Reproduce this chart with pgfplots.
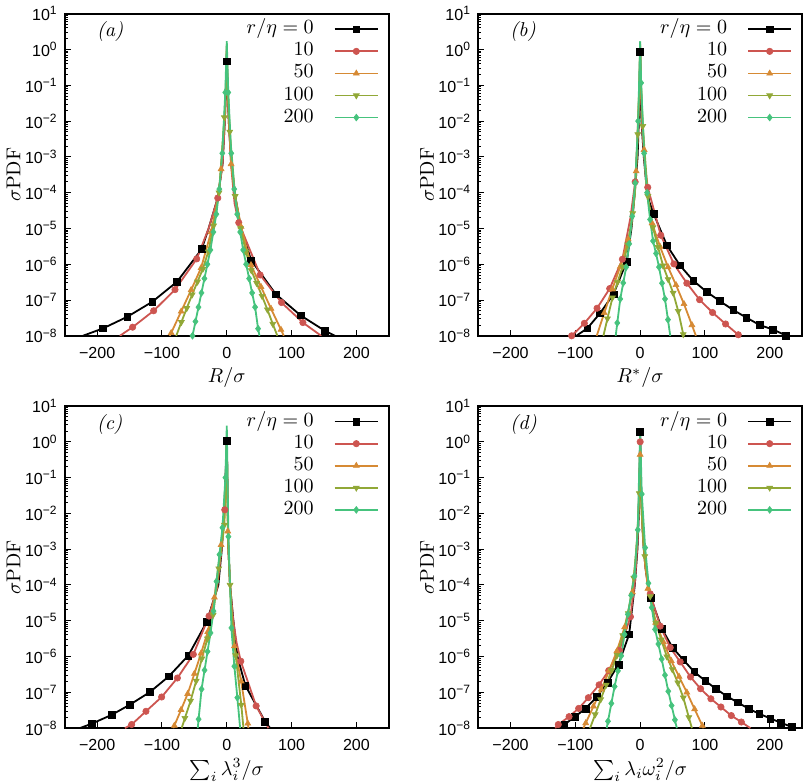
\documentclass[border=0pt]{standalone}
\usepackage{fontspec}
\usepackage{pgfplots}
\usepackage{pgfplotstable}
\pgfplotsset{compat=1.18}
\usepgfplotslibrary{groupplots}
\newfontfamily\ticksans{Liberation Sans}
\definecolor{cred}{RGB}{205,85,80}
\definecolor{corange}{RGB}{214,138,52}
\definecolor{colive}{RGB}{145,168,55}
\definecolor{cgreen}{RGB}{70,195,125}

% ---------------- panel (a) ----------------
\pgfplotstableread{
x y m
-222 1.0e-8 0
-190.7 1.62e-8 1
-153.6 3.39e-8 1
-115 8.91e-8 1
-76.8 3.24e-7 1
-38.7 2.63e-6 1
-28 1.0e-5 0
-14 7.08e-5 0
-6.5 6.31e-4 0
-3 1.0e-2 0
-1 0.1 0
0 0.47 1
1 0.1 0
3 1.0e-2 0
7 6.31e-4 0
14 6.31e-5 0
22 1.0e-5 0
37.6 1.29e-6 1
75.7 1.45e-7 1
113.8 3.72e-8 1
151.4 1.38e-8 1
167 1.0e-8 0
}\tAa
\pgfplotstableread{
x y m
-165 1.0e-8 0
-145.3 1.74e-8 1
-112.8 5.01e-8 1
-79.9 1.95e-7 1
-46.4 1.41e-6 1
-28 1.0e-5 0
-13.9 7.08e-5 1
-6.5 6.31e-4 0
-3 1.0e-2 0
-1 0.126 0
0 1.0 0
1 0.126 0
3 1.0e-2 0
7 5.01e-4 0
12 5.01e-5 0
18.5 1.45e-5 1
51.5 5.01e-7 1
84.4 8.51e-8 1
117.4 2.34e-8 1
145.7 1.0e-8 0
}\tAb
\pgfplotstableread{
x y m
-88 1.0e-8 0
-85.8 1.20e-8 1
-70.4 4.79e-8 1
-55 1.91e-7 1
-39.6 7.94e-7 1
-24.2 7.94e-6 1
-12 1.0e-4 0
-8.8 4.57e-4 1
-3 1.58e-2 0
-1 0.126 0
0 1.26 0
1 0.126 0
3 1.58e-2 0
6.6 6.31e-4 1
12 1.0e-4 0
22 1.12e-5 1
37.4 9.55e-7 1
52.8 2.34e-7 1
68.2 5.75e-8 1
83.6 1.48e-8 1
88 1.0e-8 0
}\tAc
\pgfplotstableread{
x y m
-78 1.0e-8 0
-70.1 2.40e-8 1
-61.8 5.89e-8 1
-53.5 1.41e-7 1
-45.2 3.24e-7 1
-36.9 7.41e-7 1
-28.6 2.24e-6 1
-20.3 1.20e-5 1
-12 1.0e-4 1
-3.7 1.26e-2 1
-1 0.158 0
0 1.41 0
1 0.158 0
4.6 5.01e-3 1
12.9 7.94e-5 1
21.2 1.0e-5 1
29.5 2.24e-6 1
37.8 6.76e-7 1
46.1 2.95e-7 1
54.4 1.29e-7 1
62.7 5.37e-8 1
71 2.14e-8 1
78 1.0e-8 0
}\tAd
\pgfplotstableread{
x y m
-52.9 1.0e-8 1
-48.3 2.51e-8 1
-43.7 6.31e-8 1
-39.1 1.58e-7 1
-34.5 3.98e-7 1
-29.9 1.0e-6 1
-25.3 2.51e-6 1
-20.7 7.94e-6 1
-16.1 2.51e-5 1
-11.5 1.26e-4 1
-6.9 1.26e-3 1
-2.3 6.31e-2 1
0 1.70 0
2.3 6.31e-2 1
6.9 1.26e-3 1
11.5 1.26e-4 1
16.1 2.51e-5 1
20.7 7.94e-6 1
25.3 2.51e-6 1
29.9 1.0e-6 1
34.5 3.98e-7 1
39.1 1.58e-7 1
43.7 6.31e-8 1
48.3 1.58e-8 1
50.5 1.0e-8 0
}\tAe

% ---------------- panel (b) ----------------
\pgfplotstableread{
x y m
-98.5 1.0e-8 0
-81.5 1.62e-8 1
-61.9 4.27e-8 1
-41.3 1.45e-7 1
-20.7 1.20e-6 1
-13.4 1.0e-5 0
-8.3 1.0e-4 0
-4 1.0e-3 0
-2 1.0e-2 0
-0.8 0.1 0
0 0.86 1
0.8 0.1 0
2 1.0e-2 0
5.6 1.0e-3 0
9.7 1.58e-4 0
14 5.62e-5 0
20.6 2.63e-5 1
41.2 3.39e-6 1
61.3 9.33e-7 1
81.9 3.47e-7 1
102.5 1.70e-7 1
123 9.33e-8 1
143.7 5.25e-8 1
163.8 3.24e-8 1
184.4 2.0e-8 1
204.5 1.51e-8 1
225 1.02e-8 1
}\tBa
\pgfplotstableread{
x y m
-105.7 1.0e-8 1
-86.1 2.24e-8 1
-66.5 5.89e-8 1
-47 2.09e-7 1
-27.4 1.38e-6 1
-15 2.0e-5 0
-7.7 2.0e-4 1
-3 6.31e-3 0
-1 0.1 0
0 1.0 0
1 0.1 0
3 6.31e-3 0
7 6.31e-4 0
11.7 1.41e-4 1
31.8 6.46e-6 1
52 1.02e-6 1
72 2.95e-7 1
91.7 1.02e-7 1
111.7 4.47e-8 1
131.8 2.14e-8 1
151.4 1.07e-8 1
}\tBb
\pgfplotstableread{
x y m
-67 1.0e-8 0
-55.4 4.37e-8 1
-43.1 2.0e-7 1
-30.8 8.51e-7 1
-18.5 5.01e-6 1
-14 1.0e-5 0
-8.3 1.0e-4 0
-6.2 3.98e-4 1
-3 1.58e-2 0
-1 0.126 0
0 1.26 0
1 0.126 0
3 1.58e-2 0
6.1 1.58e-3 1
10 1.0e-4 0
18.4 1.41e-5 1
30.7 3.09e-6 1
43 8.32e-7 1
55.3 2.63e-7 1
67.6 7.76e-8 1
79.9 2.0e-8 1
86 1.0e-8 0
}\tBc
\pgfplotstableread{
x y m
-56.7 1.0e-8 0
-50.5 3.02e-8 1
-42.7 1.17e-7 1
-34.9 3.16e-7 1
-27.1 8.51e-7 1
-19.3 3.55e-6 1
-11.5 2.63e-5 1
-8 1.0e-4 0
-3.7 4.27e-3 1
-1 0.158 0
0 1.41 0
1 0.158 0
4.1 7.24e-3 1
11.9 7.94e-5 1
19.7 1.07e-5 1
27.5 3.02e-6 1
35.3 9.12e-7 1
43.1 3.80e-7 1
50.9 1.58e-7 1
58.7 4.90e-8 1
66.5 1.10e-8 1
67 1.0e-8 0
}\tBd
\pgfplotstableread{
x y m
-37.7 1.0e-8 0
-35.3 2.29e-8 1
-30.7 1.07e-7 1
-26.1 3.02e-7 1
-21.5 8.32e-7 1
-16.9 3.72e-6 1
-12.3 2.19e-5 1
-7.7 1.86e-4 1
-3.1 1.0e-2 1
0 1.70 0
1.5 0.117 1
6.1 1.26e-3 1
10.7 1.0e-4 1
15.3 1.78e-5 1
19.9 4.47e-6 1
24.5 2.0e-6 1
29.1 8.32e-7 1
33.7 2.95e-7 1
38.3 1.07e-7 1
42.9 2.82e-8 1
46.4 1.0e-8 0
}\tBe

% ---------------- panel (c) ----------------
\pgfplotstableread{
x y m
-226.7 1.0e-8 0
-208.7 1.32e-8 1
-177.7 2.34e-8 1
-149 4.57e-8 1
-118.5 1.02e-7 1
-89.2 2.82e-7 1
-59.3 1.07e-6 1
-30.9 9.33e-6 1
-13 1.0e-4 0
-7.7 1.0e-3 0
-4.2 1.0e-2 0
-2 0.1 0
0 1.07 1
1 6.31e-2 0
2.5 1.0e-3 0
5 1.0e-4 0
10.2 1.0e-5 0
16.4 1.0e-6 0
28.7 1.55e-7 1
59.2 1.51e-8 1
67 1.0e-8 0
}\tCa
\pgfplotstableread{
x y m
-157 1.0e-8 0
-146.8 1.26e-8 1
-124.7 2.95e-8 1
-100.5 7.41e-8 1
-76.2 2.51e-7 1
-51.6 1.15e-6 1
-27.4 1.35e-5 1
-15 7.94e-5 0
-8 1.0e-3 0
-3.1 1.26e-2 1
0 1.2 0
1 6.31e-2 0
2.5 1.0e-3 0
5 1.0e-4 0
10 1.0e-5 0
15 2.51e-6 0
21.6 7.41e-7 1
45.3 4.17e-8 1
64.3 1.0e-8 0
}\tCb
\pgfplotstableread{
x y m
-82.5 1.0e-8 0
-80.9 1.17e-8 1
-70.6 3.24e-8 1
-60.3 9.12e-8 1
-50 3.31e-7 1
-39.7 1.23e-6 1
-29.4 4.90e-6 1
-19.1 4.47e-5 1
-8.8 1.32e-3 1
-3 1.58e-2 0
-1 0.126 0
0 1.26 0
1.5 3.16e-3 1
5 1.0e-4 0
7 1.8e-5 0
11.8 1.95e-6 1
22.1 2.04e-7 1
32.4 1.35e-8 1
33.4 1.0e-8 0
}\tCc
\pgfplotstableread{
x y m
-69.6 1.0e-8 0
-64.6 1.91e-8 1
-55.9 5.75e-8 1
-47.2 2.09e-7 1
-38.5 8.71e-7 1
-29.8 3.16e-6 1
-21.1 1.45e-5 1
-12.4 2.88e-4 1
-3.7 4.79e-3 1
-1 0.158 0
0 1.41 0
1 3.16e-2 0
2.5 1.0e-3 0
5 1.0e-4 1
8.5 1.0e-5 0
13.7 1.07e-6 1
22.4 4.47e-8 1
25.7 1.0e-8 0
}\tCd
\pgfplotstableread{
x y m
-44.8 1.0e-8 0
-43.5 1.78e-8 1
-38.9 1.23e-7 1
-34.3 4.17e-7 1
-29.7 1.38e-6 1
-25.1 4.57e-6 1
-20.5 1.86e-5 1
-15.9 1.26e-4 1
-11.3 7.08e-4 1
-6.7 3.98e-3 1
-2.1 0.1 1
0 2.82 0
2.5 2.24e-3 1
5 1.0e-4 0
7.1 6.31e-6 1
11.7 5.37e-7 1
16.3 7.08e-8 1
20.6 1.0e-8 0
}\tCe

% ---------------- panel (d) ----------------
\pgfplotstableread{
x y m
-126 1.0e-8 0
-117 1.26e-8 1
-100.5 2.09e-8 1
-84.1 3.55e-8 1
-67.1 7.41e-8 1
-50.5 1.86e-7 1
-33.5 6.03e-7 1
-17 4.17e-6 1
-8.3 1.0e-4 0
-4.2 1.0e-3 0
-2 1.0e-2 0
-1 0.1 0
0 1.9 1
1 0.1 0
2.5 1.0e-2 0
5.6 1.0e-3 0
8.7 2.51e-4 0
12 1.0e-4 0
16.4 4.37e-5 1
33.4 6.03e-6 1
49.9 1.78e-6 1
66.5 8.13e-7 1
83.5 3.72e-7 1
100.5 2.09e-7 1
116.8 1.26e-7 1
133.8 7.76e-8 1
150.4 5.25e-8 1
167.4 3.47e-8 1
183.9 2.51e-8 1
200.9 1.86e-8 1
217.3 1.41e-8 1
234.3 1.07e-8 1
245 9.0e-9 0
}\tDa
\pgfplotstableread{
x y m
-131 1.0e-8 0
-126.3 1.26e-8 1
-109.7 2.09e-8 1
-94.9 3.55e-8 1
-79.9 7.08e-8 1
-63.4 1.62e-7 1
-48.5 4.07e-7 1
-32 1.48e-6 1
-15 1.29e-5 1
-8 1.26e-4 0
-4 1.58e-3 0
-1 0.1 0
0 1.0 1
1 0.1 0
4 2.51e-3 0
8 3.16e-4 0
15.6 5.62e-5 1
30.9 7.08e-6 1
46.4 1.78e-6 1
61.8 7.08e-7 1
77.7 2.69e-7 1
93.2 1.26e-7 1
109.1 6.61e-8 1
124.6 3.89e-8 1
140.6 2.24e-8 1
156.1 1.48e-8 1
170 1.0e-8 0
}\tDb
\pgfplotstableread{
x y m
-87.6 1.0e-8 0
-84 1.38e-8 1
-72 4.07e-8 1
-60 1.20e-7 1
-48 3.98e-7 1
-36 1.41e-6 1
-24 6.61e-6 1
-12 6.31e-5 1
-7 5.01e-4 0
-3 6.31e-3 0
-1 6.31e-2 0
0 0.44 1
1 6.31e-2 0
3 6.31e-3 0
7 5.01e-4 0
12 7.94e-5 1
24 8.91e-6 1
36 2.51e-6 1
48 7.59e-7 1
60 2.75e-7 1
72 1.0e-7 1
84 3.39e-8 1
96 1.17e-8 1
97.8 1.0e-8 0
}\tDc
\pgfplotstableread{
x y m
-77.3 1.0e-8 0
-69.4 2.40e-8 1
-60.9 6.31e-8 1
-52.4 1.62e-7 1
-43.9 4.17e-7 1
-35.4 1.10e-6 1
-26.9 3.89e-6 1
-18.4 1.62e-5 1
-9.9 1.58e-4 1
-5 1.58e-3 0
-1.4 3.63e-2 1
0 1.0 0
1.4 3.16e-2 0
5 1.58e-3 0
7.1 6.31e-4 1
15.6 4.79e-5 1
24.1 8.71e-6 1
32.6 2.95e-6 1
41.1 1.0e-6 1
49.6 4.37e-7 1
58.1 1.86e-7 1
66.6 7.08e-8 1
75.1 2.0e-8 1
79.8 1.0e-8 0
}\tDd
\pgfplotstableread{
x y m
-51.6 1.0e-8 0
-49.6 1.55e-8 1
-44.5 4.90e-8 1
-39.4 1.45e-7 1
-34.3 3.98e-7 1
-29.2 1.05e-6 1
-24.1 4.17e-6 1
-19 1.51e-5 1
-13.9 5.13e-5 1
-8.8 1.78e-4 1
-3.7 3.47e-3 1
0 1.95 0
2.5 3.47e-2 1
7.7 1.10e-3 1
12.8 1.12e-4 1
17.9 2.34e-5 1
23 5.75e-6 1
28.1 2.24e-6 1
33.2 8.51e-7 1
38.3 3.02e-7 1
43.4 1.07e-7 1
48.5 4.27e-8 1
53.6 1.70e-8 1
56.6 1.0e-8 0
}\tDe

\pgfplotsset{
  sA/.style={black, mark=square*, mark size=1.7pt, mark options={solid, line width=0.3pt}},
  sB/.style={cred, mark=*, mark size=1.6pt, mark options={solid, line width=0.3pt}},
  sC/.style={corange, mark=triangle*, mark size=1.7pt, mark options={solid, line width=0.3pt}},
  sD/.style={colive, mark=triangle*, mark size=1.7pt, mark options={solid, line width=0.3pt, rotate=180}},
  sE/.style={cgreen, mark=diamond*, mark size=1.7pt, mark options={solid, line width=0.3pt}},
  ln/.style={line width=0.9pt, mark phase=1000},
  mk/.style={only marks, forget plot, restrict expr to domain={\thisrow{m}}{0.5:1.5}},
}
\newcommand{\series}[2]{\addplot[#1,ln] table {#2};\addplot[#1,mk] table {#2};}

\begin{document}
\begin{tikzpicture}
\begin{groupplot}[
  group style={group size=2 by 2, horizontal sep=44.5pt, vertical sep=35pt},
  scale only axis,
  width=161.5pt, height=160.5pt,
  xmin=-250, xmax=250, ymin=1e-8, ymax=10,
  ymode=log,
  xtick={-200,-100,0,100,200},
  xticklabels={−200,−100,0,100,200},
  ytickten={-8,...,1},
  yticklabels={10\textsuperscript{−8},10\textsuperscript{−7},10\textsuperscript{−6},10\textsuperscript{−5},10\textsuperscript{−4},10\textsuperscript{−3},10\textsuperscript{−2},10\textsuperscript{−1},10\textsuperscript{0},10\textsuperscript{1}},
  tick pos=left,
  tick align=inside,
  major tick length=3pt, minor tick length=1.6pt,
  every tick/.style={black, line width=0.5pt},
  axis line style={line width=0.8pt},
  tick label style={font=\ticksans\fontsize{8}{9}\selectfont},
  xticklabel style={yshift=-2pt},
  label style={font=\fontsize{10}{12}\selectfont},
  ylabel={$\sigma$PDF},
  ylabel style={at={(axis description cs:-0.158,0.5)}, anchor=center},
  xlabel style={at={(axis description cs:0.5,-0.146)}, anchor=base, inner sep=0pt},
  legend plot pos=right,
  legend cell align=right,
  legend image code/.code={\path (0pt,0pt); \draw[line width=0.9pt, mark repeat=2,mark phase=2] plot coordinates {(10pt,0pt) (20.75pt,0pt) (31.5pt,0pt)};},
  legend style={draw=none, fill=none, inner sep=0pt, outer sep=0pt,
    at={(1,1)}, anchor=north east, xshift=-5pt, yshift=-3pt,
    font=\fontsize{10}{12}\selectfont,
    nodes={inner sep=0pt, text height=7pt, text depth=2.5pt},
    row sep=1.5pt},
  legend entries={$r/\eta=0$,10,50,100,200},
]
\nextgroupplot[xlabel={$R/\sigma$}]
\series{sA}{\tAa}
\series{sB}{\tAb}
\series{sC}{\tAc}
\series{sD}{\tAd}
\series{sE}{\tAe}
\node[anchor=west] at (rel axis cs:0.077,0.944) {\textit{(a)}};

\nextgroupplot[xlabel={$R^*/\sigma$}]
\series{sA}{\tBa}
\series{sB}{\tBb}
\series{sC}{\tBc}
\series{sD}{\tBd}
\series{sE}{\tBe}
\node[anchor=west] at (rel axis cs:0.077,0.944) {\textit{(b)}};

\nextgroupplot[xlabel={$\sum_i \lambda_i^3/\sigma$}]
\series{sA}{\tCa}
\series{sB}{\tCb}
\series{sC}{\tCc}
\series{sD}{\tCd}
\series{sE}{\tCe}
\node[anchor=west] at (rel axis cs:0.077,0.944) {\textit{(c)}};

\nextgroupplot[xlabel={$\sum_i \lambda_i\omega_i^2/\sigma$}]
\series{sA}{\tDa}
\series{sB}{\tDb}
\series{sC}{\tDc}
\series{sD}{\tDd}
\series{sE}{\tDe}
\node[anchor=west] at (rel axis cs:0.077,0.944) {\textit{(d)}};
\end{groupplot}
\end{tikzpicture}
\end{document}
